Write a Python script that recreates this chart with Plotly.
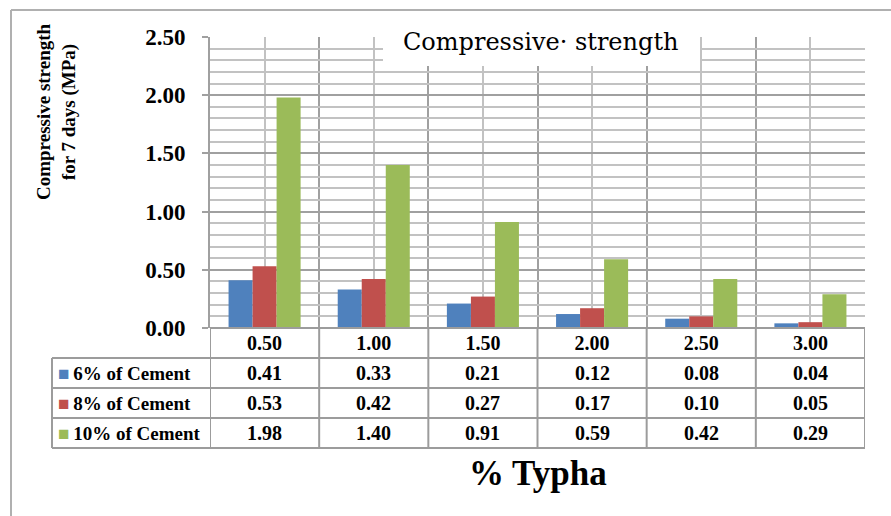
import plotly.graph_objects as go

# Data
typha_pct = ["0.50", "1.00", "1.50", "2.00", "2.50", "3.00"]
series_names = ["6% of Cement", "8% of Cement", "10% of Cement"]
cement_6 = [0.41, 0.33, 0.21, 0.12, 0.08, 0.04]
cement_8 = [0.53, 0.42, 0.27, 0.17, 0.10, 0.05]
cement_10 = [1.98, 1.40, 0.91, 0.59, 0.42, 0.29]
series_values = [cement_6, cement_8, cement_10]
series_colors = ["#4F81BD", "#C0504D", "#9BBB59"]

W, H = 891, 516
FONT = "Liberation Serif, Times New Roman, serif"
TITLE_FONT = "DejaVu Serif, Cambria, serif"
GRID_MAJOR = "#a0a0a0"
GRID_MINOR = "#c2c2c2"
TABLE_LINE = "#9c9c9c"


def px(x):
    return x / W


def py(y):
    return 1 - y / H


# plot area in pixels
X0, X1 = 210, 865
Y_TOP, Y_AXIS = 37, 328
# table row boundaries (pixels)
ROW_Y = [358, 388, 418, 448]
TABLE_LEFT = 52

xs = list(range(len(typha_pct)))

fig = go.Figure()
for name, vals, col in zip(series_names, series_values, series_colors):
    fig.add_trace(go.Bar(x=xs, y=vals, name=name, marker=dict(color=col, line=dict(width=0)),
                         showlegend=False))

fig.update_layout(
    width=W, height=H, autosize=False,
    margin=dict(l=0, r=0, t=0, b=0, pad=0),
    paper_bgcolor="white", plot_bgcolor="white",
    barmode="group", bargap=0.34, bargroupgap=0,
    font=dict(family=FONT, color="black"),
    xaxis=dict(
        domain=[px(X0), px(X1)], range=[-0.5, len(xs) - 0.5],
        tickmode="array", tickvals=xs, ticktext=typha_pct,
        tickfont=dict(size=20, family=FONT, color="black", weight="bold"),
        ticks="", showline=False, zeroline=False, automargin=False,
        showgrid=True, gridcolor=GRID_MINOR, gridwidth=1.5,
        ticklabelstandoff=1,
        minor=dict(tickmode="array", tickvals=[i - 0.5 for i in range(len(xs) + 1)],
                   showgrid=True, gridcolor=GRID_MAJOR, gridwidth=2, ticks=""),
    ),
    yaxis=dict(
        domain=[py(Y_AXIS), py(Y_TOP)], range=[0, 2.5],
        tick0=0, dtick=0.5, tickformat=".2f", automargin=False,
        tickfont=dict(size=23, family=FONT, color="black", weight="bold"),
        ticks="outside", ticklen=6, tickcolor=GRID_MAJOR, tickwidth=2,
        showline=True, linecolor=GRID_MAJOR, linewidth=2,
        showgrid=True, gridcolor=GRID_MAJOR, gridwidth=2,
        zeroline=True, zerolinecolor=GRID_MAJOR, zerolinewidth=2,
        ticklabelstandoff=12,
        minor=dict(dtick=0.1, showgrid=True, gridcolor=GRID_MINOR, gridwidth=1.5, ticks=""),
    ),
)

shapes = []
# table horizontal lines
shapes.append(dict(type="line", xref="paper", yref="paper", x0=px(X0), x1=px(X1),
                   y0=py(Y_AXIS), y1=py(Y_AXIS), line=dict(color=TABLE_LINE, width=2)))
for ry in ROW_Y:
    shapes.append(dict(type="line", xref="paper", yref="paper", x0=px(TABLE_LEFT), x1=px(X1),
                       y0=py(ry), y1=py(ry), line=dict(color=TABLE_LINE, width=2)))
# table vertical lines at category boundaries
for i in range(len(xs) + 1):
    shapes.append(dict(type="line", xref="x", yref="paper", x0=i - 0.5, x1=i - 0.5,
                       y0=py(ROW_Y[-1]), y1=py(Y_AXIS), line=dict(color=TABLE_LINE, width=2)))
shapes.append(dict(type="line", xref="paper", yref="paper", x0=px(TABLE_LEFT), x1=px(TABLE_LEFT),
                   y0=py(ROW_Y[-1]), y1=py(ROW_Y[0]), line=dict(color=TABLE_LINE, width=2)))
# white box behind the title
shapes.append(dict(type="rect", xref="paper", yref="paper", x0=px(383), x1=px(700),
                   y0=py(66), y1=py(13), fillcolor="white", line=dict(width=0), layer="above"))
# outer chart frame
shapes.append(dict(type="line", xref="paper", yref="paper", x0=px(11), x1=1,
                   y0=py(10), y1=py(10), line=dict(color="#b0b0b0", width=2)))
shapes.append(dict(type="line", xref="paper", yref="paper", x0=px(11), x1=px(11),
                   y0=py(10), y1=0, line=dict(color="#b0b0b0", width=2)))
fig.update_layout(shapes=shapes)

annotations = []
# table cells: legend keys and values
for r, (name, vals, col) in enumerate(zip(series_names, series_values, series_colors)):
    yc = (ROW_Y[r] + (ROW_Y[r + 1] if r + 1 < len(ROW_Y) else ROW_Y[r] + 30)) / 2
    annotations.append(dict(
        xref="paper", yref="paper", x=px(56), y=py(yc), xanchor="left", yanchor="middle",
        text=f"<span style='color:{col}'>■</span>\u2009{name}", showarrow=False,
        font=dict(size=19, family=FONT, color="black", weight="bold")))
    for i, v in enumerate(vals):
        annotations.append(dict(
            xref="x", yref="paper", x=i, y=py(yc), xanchor="center", yanchor="middle",
            text=f"{v:.2f}", showarrow=False,
            font=dict(size=20, family=FONT, color="black", weight="bold")))

# chart title
annotations.append(dict(xref="paper", yref="paper", x=px(541), y=py(42), xanchor="center",
                        yanchor="middle", text="Compressive· strength", showarrow=False,
                        font=dict(size=24, family=TITLE_FONT, color="black")))
# y axis title
annotations.append(dict(xref="paper", yref="paper", x=px(57), y=py(112), xanchor="center",
                        yanchor="middle", textangle=-90, showarrow=False,
                        text="Compressive strength<br>for 7 days (MPa)",
                        font=dict(size=19, family=FONT, color="black", weight="bold")))
# x axis title
annotations.append(dict(xref="paper", yref="paper", x=px(538), y=py(473), xanchor="center",
                        yanchor="middle", text="% Typha", showarrow=False,
                        font=dict(size=35, family=FONT, color="black", weight="bold")))
fig.update_layout(annotations=annotations)

fig.write_html("out.html")
